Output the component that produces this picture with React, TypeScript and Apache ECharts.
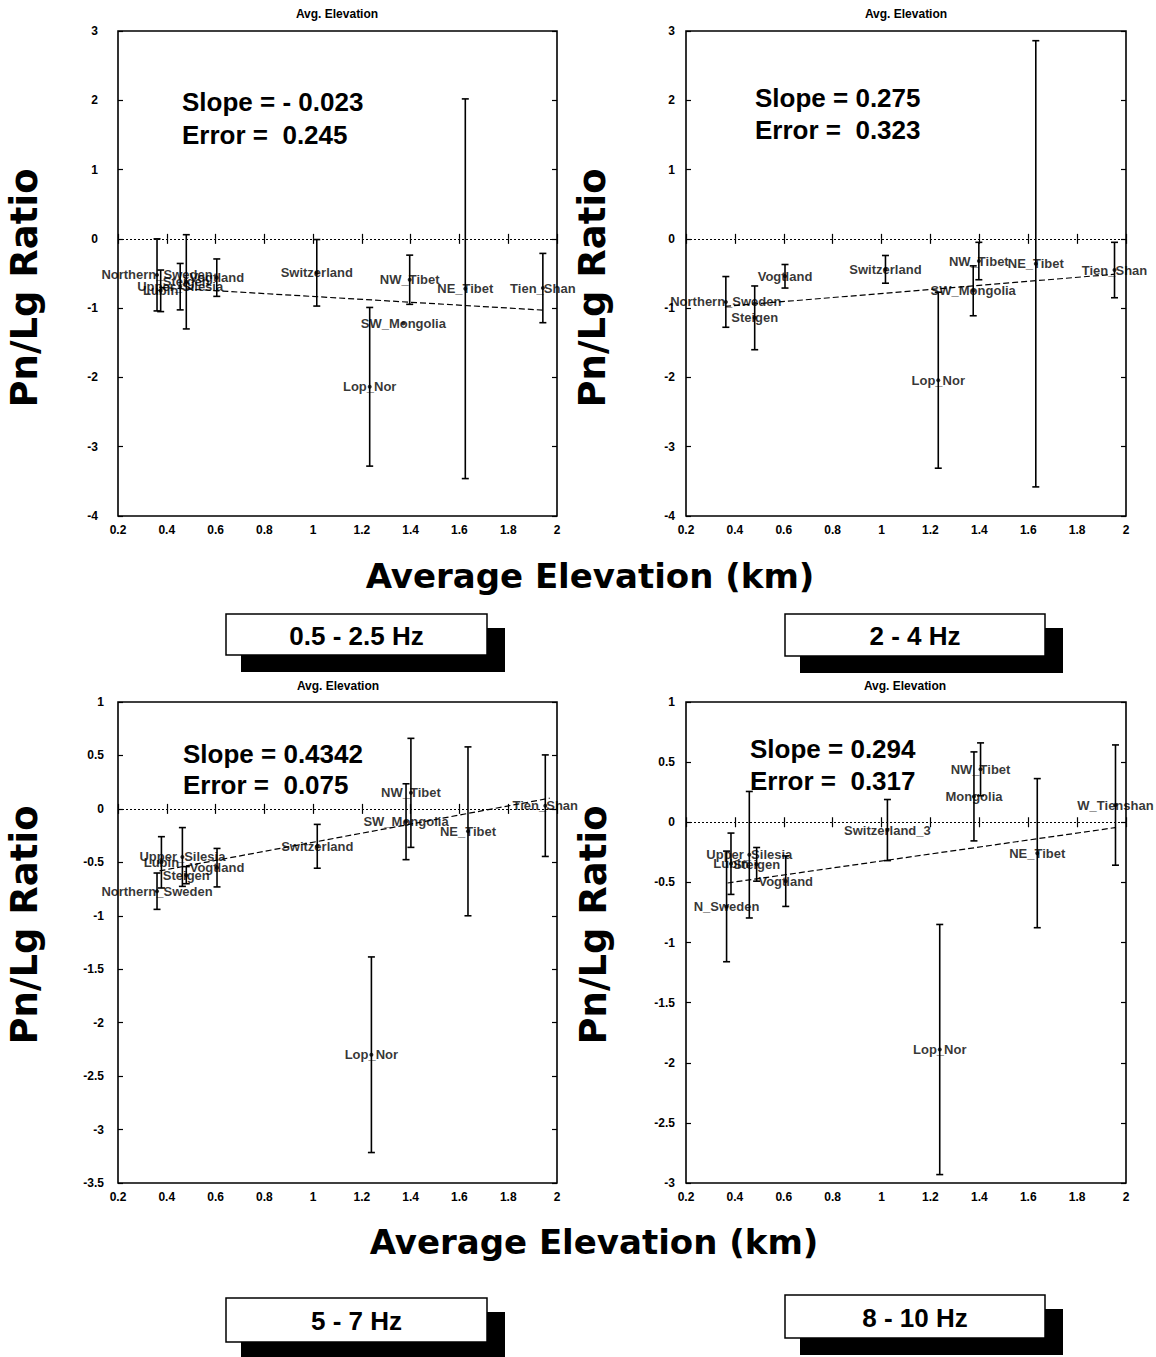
import React, { useEffect, useRef } from "react";
import * as echarts from "echarts";

// ---------- data ----------
const bandLabels = ["0.5 - 2.5 Hz", "2 - 4 Hz", "5 - 7 Hz", "8 - 10 Hz"];
const slopeTexts = ["Slope = - 0.023", "Slope = 0.275", "Slope = 0.4342", "Slope = 0.294"];
const errorTexts = ["Error =  0.245", "Error =  0.323", "Error =  0.075", "Error =  0.317"];

const yMins = [-4, -4, -3.5, -3];
const yMaxs = [3, 3, 1, 1];
const yIntervals = [1, 1, 0.5, 0.5];

// Panel 1: 0.5 - 2.5 Hz
const names1 = ["Northern_Sweden", "Lubin", "Upper_Silesia", "Steigen", "Vogtland", "Switzerland", "Lop_Nor", "SW_Mongolia", "NW_Tibet", "NE_Tibet", "Tien_Shan"];
const elev1 = [0.36, 0.375, 0.455, 0.48, 0.605, 1.015, 1.232, 1.37, 1.396, 1.624, 1.942];
const ratio1 = [-0.52, -0.75, -0.69, -0.62, -0.56, -0.49, -2.135, -1.22, -0.59, -0.72, -0.71];
const err1 = [0.52, 0.3, 0.335, 0.68, 0.27, 0.48, 1.145, 0, 0.355, 2.74, 0.5];
const fitX1 = [0.37, 1.95];
const fitY1 = [-0.7, -1.03];

// Panel 2: 2 - 4 Hz
const names2 = ["Northern_Sweden", "Steigen", "Vogtland", "Switzerland", "Lop_Nor", "SW_Mongolia", "NW_Tibet", "NE_Tibet", "Tien_Shan"];
const elev2 = [0.363, 0.481, 0.605, 1.016, 1.232, 1.375, 1.398, 1.631, 1.953];
const ratio2 = [-0.91, -1.14, -0.54, -0.44, -2.04, -0.75, -0.32, -0.36, -0.45];
const err2 = [0.366, 0.46, 0.17, 0.2, 1.27, 0.36, 0.27, 3.22, 0.4];
const fitX2 = [0.36, 1.955];
const fitY2 = [-0.975, -0.51];

// Panel 3: 5 - 7 Hz
const names3 = ["Northern_Sweden", "Lubin", "Upper_Silesia", "Steigen", "Vogtland", "Switzerland", "Lop_Nor", "SW_Mongolia", "NW_Tibet", "NE_Tibet", "Tien_Shan"];
const elev3 = [0.36, 0.378, 0.464, 0.48, 0.606, 1.017, 1.239, 1.381, 1.401, 1.635, 1.952];
const ratio3 = [-0.77, -0.5, -0.45, -0.62, -0.55, -0.35, -2.3, -0.12, 0.15, -0.21, 0.03];
const err3 = [0.17, 0.24, 0.275, 0.08, 0.18, 0.205, 0.915, 0.355, 0.51, 0.79, 0.475];
const fitX3 = [0.37, 1.97];
const fitY3 = [-0.58, 0.1];

// Panel 4: 8 - 10 Hz
const names4 = ["N_Sweden", "Lubin", "Upper_Silesia", "Steigen", "Vogtland", "Switzerland_3", "Lop_Nor", "Mongolia", "NW_Tibet", "NE_Tibet", "W_Tienshan"];
const elev4 = [0.366, 0.384, 0.459, 0.489, 0.608, 1.024, 1.238, 1.378, 1.405, 1.637, 1.957];
const ratio4 = [-0.7, -0.345, -0.27, -0.35, -0.49, -0.065, -1.89, 0.215, 0.44, -0.257, 0.143];
const err4 = [0.46, 0.255, 0.526, 0.14, 0.21, 0.254, 1.04, 0.37, 0.22, 0.62, 0.5];
const fitX4 = [0.37, 1.955];
const fitY4 = [-0.505, -0.045];

const panelNames = [names1, names2, names3, names4];
const panelElev = [elev1, elev2, elev3, elev4];
const panelRatio = [ratio1, ratio2, ratio3, ratio4];
const panelErr = [err1, err2, err3, err4];
const panelFitX = [fitX1, fitX2, fitX3, fitX4];
const panelFitY = [fitY1, fitY2, fitY3, fitY4];

// ---------- layout ----------
const GRIDS = [
  { left: 118, top: 31, width: 439, height: 485 },
  { left: 686, top: 31, width: 440, height: 485 },
  { left: 118, top: 702, width: 439, height: 481 },
  { left: 686, top: 702, width: 440, height: 481 },
];
const Y_LABEL_MARGINS = [20, 11, 14, 11];
const SMALL_FONT = "Liberation Sans";
const BIG_FONT = "DejaVu Sans";

const fmt = (v: number) => String(Math.round(v * 10) / 10);

function errRender(params: any, api: any) {
  const x = api.value(0);
  const y = api.value(1);
  const e = api.value(2);
  if (!e) return { type: "group", children: [] };
  const p1 = api.coord([x, y + e]);
  const p2 = api.coord([x, y - e]);
  const w = 3.5;
  const style = { stroke: "#000", lineWidth: 1.6 };
  return {
    type: "group",
    children: [
      { type: "line", shape: { x1: p1[0], y1: p1[1], x2: p2[0], y2: p2[1] }, style },
      { type: "line", shape: { x1: p1[0] - w, y1: p1[1], x2: p1[0] + w, y2: p1[1] }, style },
      { type: "line", shape: { x1: p2[0] - w, y1: p2[1], x2: p2[0] + w, y2: p2[1] }, style },
    ],
  };
}

function buildOption() {
  const grid: any[] = [];
  const xAxis: any[] = [];
  const yAxis: any[] = [];
  const series: any[] = [];
  const tick = { show: true, inside: true, length: 5, lineStyle: { color: "#000", width: 1.2 } };
  const lbl = { color: "#000", fontSize: 12, fontWeight: "bold", fontFamily: SMALL_FONT };

  for (let p = 0; p < 4; p++) {
    grid.push({ ...GRIDS[p], show: true, borderColor: "#000", borderWidth: 1.6, backgroundColor: "transparent" });
    for (const pos of ["bottom", "top"]) {
      xAxis.push({
        type: "value", gridIndex: p, position: pos, min: 0.2, max: 2, interval: 0.2,
        axisLine: { show: false }, splitLine: { show: false }, axisTick: tick,
        axisLabel: { show: pos === "bottom", margin: 8, formatter: fmt, ...lbl },
      });
    }
    for (const pos of ["left", "right"]) {
      yAxis.push({
        type: "value", gridIndex: p, position: pos, min: yMins[p], max: yMaxs[p], interval: yIntervals[p],
        axisLine: { show: false }, splitLine: { show: false }, axisTick: tick,
        axisLabel: { show: pos === "left", margin: Y_LABEL_MARGINS[p], formatter: fmt, ...lbl },
      });
    }
    const xi = 2 * p;
    const yi = 2 * p;
    series.push({
      type: "custom", xAxisIndex: xi, yAxisIndex: yi, renderItem: errRender, silent: true,
      encode: { x: 0, y: 1 },
      data: panelElev[p].map((x, i) => [x, panelRatio[p][i], panelErr[p][i]]),
      z: 2,
    });
    series.push({
      type: "line", xAxisIndex: xi, yAxisIndex: yi, symbol: "none", silent: true,
      data: panelFitX[p].map((x, i) => [x, panelFitY[p][i]]),
      lineStyle: { color: "#000", width: 1.2, type: [6, 3] },
      markLine: {
        silent: true, symbol: ["none", "none"], label: { show: false },
        lineStyle: { color: "#000", width: 1, type: [2, 2] },
        data: [{ yAxis: 0 }],
      },
      z: 3,
    });
    series.push({
      type: "scatter", xAxisIndex: xi, yAxisIndex: yi, symbol: "circle", symbolSize: 4, silent: true,
      itemStyle: { color: "#000" },
      label: { show: true, position: "inside", formatter: "{b}", color: "#000", fontSize: 13, fontWeight: "bold", fontFamily: SMALL_FONT },
      data: panelNames[p].map((n, i) => ({ name: n, value: [panelElev[p][i], panelRatio[p][i]] })),
      z: 4,
    });
  }

  const graphic: any[] = [];
  const txt = (x: number, y: number, text: string, size: number, font: string, align = "center", rot = 0, weight = "bold") => ({
    type: "text", x, y, rotation: rot, z: 50,
    style: { text, fill: "#000", fontSize: size, fontWeight: weight, fontFamily: font, align, verticalAlign: "middle" },
  });
  // small titles
  const titleCenters = [[337, 14], [906, 14], [338, 686], [905, 686]];
  titleCenters.forEach(([x, y]) => graphic.push(txt(x, y, "Avg. Elevation", 12, SMALL_FONT)));
  // slope / error
  const slopePos = [[182, 102], [755, 98], [183, 754], [750, 749]];
  const errPos = [[182, 135], [755, 130], [183, 785], [750, 781]];
  for (let p = 0; p < 4; p++) {
    graphic.push(txt(slopePos[p][0], slopePos[p][1], slopeTexts[p], 26, SMALL_FONT, "left"));
    graphic.push(txt(errPos[p][0], errPos[p][1], errorTexts[p], 26, SMALL_FONT, "left"));
  }
  // y titles
  const yTitlePos = [[24, 288], [592, 288], [24, 925], [593, 925]];
  yTitlePos.forEach(([x, y]) => graphic.push(txt(x, y, "Pn/Lg Ratio", 37, BIG_FONT, "center", Math.PI / 2)));
  // x titles
  graphic.push(txt(590, 576, "Average Elevation (km)", 34, BIG_FONT));
  graphic.push(txt(594, 1242, "Average Elevation (km)", 34, BIG_FONT));
  // band boxes
  const boxes = [
    { x: 226, y: 614, w: 261, h: 41 },
    { x: 785, y: 614, w: 260, h: 42 },
    { x: 226, y: 1298, w: 261, h: 44 },
    { x: 785, y: 1295, w: 260, h: 43 },
  ];
  boxes.forEach((b, p) => {
    graphic.push({ type: "rect", z: 40, shape: { x: b.x + 15, y: b.y + 14, width: b.w + 3, height: b.h + 3 }, style: { fill: "#000" } });
    graphic.push({ type: "rect", z: 41, shape: { x: b.x, y: b.y, width: b.w, height: b.h }, style: { fill: "#fff", stroke: "#000", lineWidth: 1.5 } });
    graphic.push({ ...txt(b.x + b.w / 2, b.y + b.h / 2 + 1, bandLabels[p], 26, SMALL_FONT), z: 42 });
  });

  return {
    animation: false,
    backgroundColor: "#fff",
    grid, xAxis, yAxis, series, graphic,
  };
}

export default function App() {
  const ref = useRef<HTMLDivElement>(null);
  useEffect(() => {
    if (!ref.current) return;
    const chart = echarts.init(ref.current, undefined, { renderer: "svg" });
    chart.setOption(buildOption() as any);
    return () => chart.dispose();
  }, []);
  return (
    <div style={{ position: "absolute", left: 0, top: 0, width: 1156, height: 1357, background: "#fff" }}>
      <div ref={ref} style={{ width: 1156, height: 1357 }} />
    </div>
  );
}
